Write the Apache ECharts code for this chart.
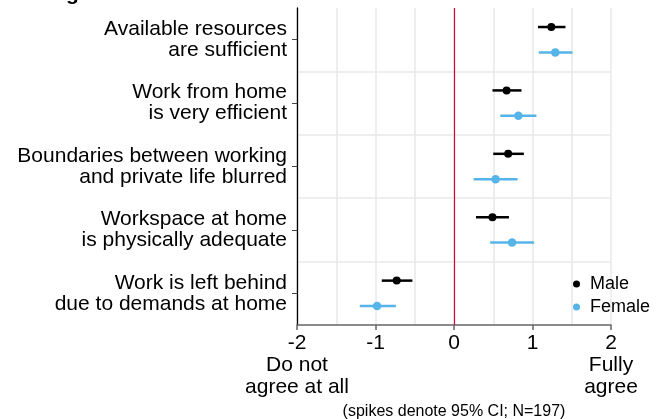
<!DOCTYPE html>
<html>
<head>
<meta charset="utf-8">
<script src="https://cdn.jsdelivr.net/npm/echarts@6/dist/echarts.min.js"></script>
<style>html,body{margin:0;padding:0;background:#fff}#c{width:659px;height:419px}</style>
</head>
<body>
<div id="c"></div>
<script>
// Categories, top to bottom
const categories = [
  'Available resources\nare sufficient',
  'Work from home\nis very efficient',
  'Boundaries between working\nand private life blurred',
  'Workspace at home\nis physically adequate',
  'Work is left behind\ndue to demands at home'
];
const maleMean   = [1.24, 0.67, 0.69, 0.49, -0.73];
const maleLo     = [1.07, 0.49, 0.50, 0.28, -0.92];
const maleHi     = [1.42, 0.86, 0.89, 0.70, -0.53];
const femaleMean = [1.29, 0.82, 0.53, 0.74, -0.98];
const femaleLo   = [1.08, 0.59, 0.25, 0.46, -1.20];
const femaleHi   = [1.51, 1.05, 0.81, 1.02, -0.74];
const xTicks = [-2, -1, 0, 1, 2];
const xTickExtra = {'-2': 'Do not\nagree at all', '2': 'Fully\nagree'};
const footnote = '(spikes denote 95% CI; N=197)';

const FONT = '"Liberation Sans", Arial, Helvetica, sans-serif';
const nCat = categories.length;
const OFF = 0.2;
// y value of a category centre (index counted from top)
const yc = i => nCat - i - 0.5;

const maleData = maleMean.map((v, i) => [v, yc(i) + OFF]);
const femaleData = femaleMean.map((v, i) => [v, yc(i) - OFF]);
const maleCI = maleLo.map((v, i) => [v, maleHi[i], yc(i) + OFF]);
const femaleCI = femaleLo.map((v, i) => [v, femaleHi[i], yc(i) - OFF]);

const BLUE = '#56b4e9';
const RED = '#cc0a3a';

function ciRender(color) {
  return function (params, api) {
    const a = api.coord([api.value(0), api.value(2)]);
    const b = api.coord([api.value(1), api.value(2)]);
    return {type: 'line', shape: {x1: a[0], y1: a[1], x2: b[0], y2: b[1]},
            style: {stroke: color, lineWidth: 2.5}};
  };
}

const chart = echarts.init(document.getElementById('c'), null, {renderer: 'canvas'});
chart.setOption({
  animation: false,
  textStyle: {fontFamily: FONT},
  grid: {left: 297, right: 48, top: 8, bottom: 94, containLabel: false},
  xAxis: {
    type: 'value', min: xTicks[0], max: xTicks[xTicks.length - 1], interval: 1,
    axisLine: {show: true, onZero: false, lineStyle: {color: '#666', width: 1.5}},
    axisTick: {show: true, length: 5, lineStyle: {color: '#666', width: 1.5}},
    axisLabel: {
      color: '#000', fontSize: 21, lineHeight: 22, margin: 7, fontFamily: FONT,
      formatter: v => (xTickExtra[String(v)] ? v + '\n' + xTickExtra[String(v)] : String(v))
    },
    splitLine: {show: true, lineStyle: {color: '#e8e8e8', width: 1.5}},
    minorTick: {show: false, splitNumber: 2},
    minorSplitLine: {show: true, lineStyle: {color: '#e8e8e8', width: 1.5}}
  },
  yAxis: [
    {
      type: 'value', min: 0, max: nCat, interval: 1,
      axisLine: {show: false}, axisTick: {show: false}, axisLabel: {show: false},
      splitLine: {show: true, showMinLine: false, showMaxLine: false,
                  lineStyle: {color: '#e8e8e8', width: 1.5}}
    },
    {
      type: 'category', position: 'left', boundaryGap: true,
      data: categories.slice().reverse(),
      axisLine: {show: true, lineStyle: {color: '#000', width: 1.3}},
      axisTick: {show: true, alignWithLabel: true, length: 5, lineStyle: {color: '#444', width: 1}},
      axisLabel: {color: '#000', fontSize: 21, lineHeight: 21, margin: 10, align: 'right', fontFamily: FONT},
      splitLine: {show: false}
    }
  ],
  legend: {
    orient: 'vertical', left: 568, top: 270, itemGap: 5,
    icon: 'circle', itemWidth: 7, itemHeight: 7,
    data: ['Male', 'Female'],
    textStyle: {color: '#000', fontSize: 18, fontFamily: FONT, padding: [0, 0, 0, 5]}
  },
  series: [
    {
      name: 'Male CI', type: 'custom', yAxisIndex: 0, renderItem: ciRender('#000'),
      encode: {x: [0, 1], y: 2}, data: maleCI, z: 2, silent: true,
      markLine: {silent: true, symbol: 'none', label: {show: false},
                 lineStyle: {color: RED, width: 1.2, type: 'solid'},
                 data: [{xAxis: 0}]}
    },
    {
      name: 'Female CI', type: 'custom', yAxisIndex: 0, renderItem: ciRender(BLUE),
      encode: {x: [0, 1], y: 2}, data: femaleCI, z: 2, silent: true
    },
    {
      name: 'Male', type: 'scatter', yAxisIndex: 0, data: maleData,
      symbol: 'circle', symbolSize: 8, itemStyle: {color: '#000', opacity: 1}, z: 3
    },
    {
      name: 'Female', type: 'scatter', yAxisIndex: 0, data: femaleData,
      symbol: 'circle', symbolSize: 8.5, itemStyle: {color: BLUE, opacity: 1}, z: 3
    }
  ],
  graphic: [
    {type: 'text', x: 454, y: 412,
     style: {text: footnote, fontSize: 16, fontFamily: FONT, fill: '#000',
             textAlign: 'center', textVerticalAlign: 'middle'}},
    {type: 'text', x: 66, y: -16,
     style: {text: 'g', fontSize: 21, fontWeight: 'bold', fontFamily: FONT, fill: '#000'}}
  ]
});
</script>
</body>
</html>
